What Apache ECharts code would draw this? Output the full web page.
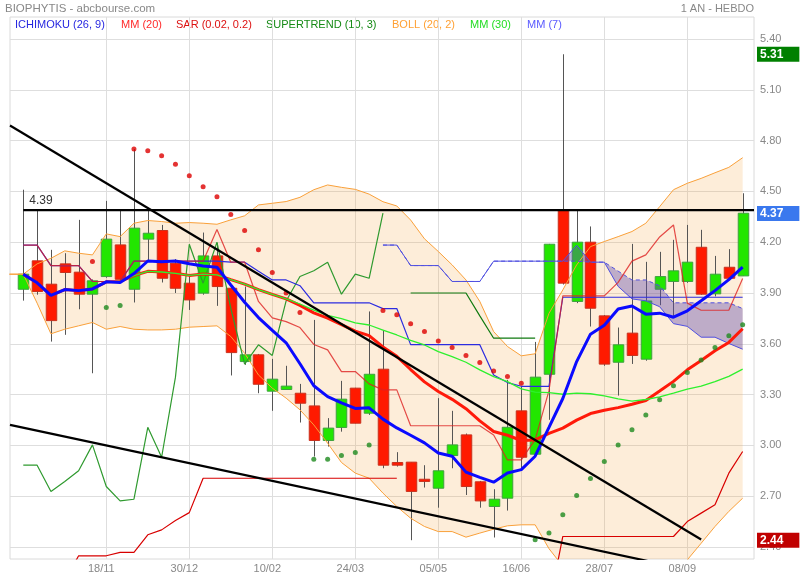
<!DOCTYPE html>
<html><head><meta charset="utf-8">
<script src="https://cdn.jsdelivr.net/npm/echarts/dist/echarts.min.js"></script>
<style>html,body{margin:0;padding:0;background:#fff}#c{width:800px;height:580px}</style>
</head><body><div id="c"></div>
<script>
// ---------- DATA ----------
const dates = ["07/10","14/10","21/10","28/10","04/11","11/11","18/11","25/11","02/12","09/12","16/12","23/12","30/12","06/01","13/01","20/01","27/01","03/02","10/02","17/02","24/02","03/03","10/03","17/03","24/03","31/03","07/04","14/04","21/04","28/04","05/05","12/05","19/05","26/05","02/06","09/06","16/06","23/06","30/06","07/07","14/07","21/07","28/07","04/08","11/08","18/08","25/08","01/09","08/09","15/09","22/09","29/09","06/10"];
const labelIdx = [6,12,18,24,30,36,42,48];
const yTicks = [2.4,2.7,3.0,3.3,3.6,3.9,4.2,4.5,4.8,5.1,5.4];

const opens  = [3.922,4.09,3.952,4.072,4.023,3.893,3.997,4.184,3.922,4.218,4.269,4.076,3.958,3.899,4.119,3.928,3.495,3.535,3.32,3.33,3.308,3.233,3.029,3.106,3.338,3.19,3.45,2.899,2.901,2.80,2.747,2.94,3.062,2.785,2.639,2.688,3.204,2.948,3.42,4.391,3.85,4.20,3.765,3.491,3.663,3.509,3.922,3.968,3.968,4.17,3.895,4.052,4.001];
const closes = [4.011,3.909,3.737,4.021,3.893,3.972,4.218,3.981,4.283,4.253,3.987,3.928,3.859,4.119,3.938,3.548,3.535,3.361,3.391,3.35,3.249,3.029,3.102,3.273,3.131,3.42,2.883,2.883,2.728,2.787,2.85,3.003,2.757,2.672,2.682,3.107,2.93,3.403,4.188,3.958,4.20,3.81,3.48,3.594,3.531,3.853,3.997,4.031,4.082,3.893,4.011,3.987,4.371];
const highs  = [4.51,4.391,4.155,4.135,4.332,3.98,4.444,4.391,4.75,4.391,4.302,4.10,3.997,4.257,4.194,3.93,3.938,3.54,3.511,3.47,3.363,3.741,3.161,3.381,3.34,3.791,3.682,2.96,2.90,2.883,3.279,3.204,3.07,2.79,2.741,3.387,3.348,3.611,4.19,5.31,4.385,4.293,3.77,3.696,4.19,4.084,4.143,4.214,4.302,4.273,4.119,4.159,4.489];
const lows   = [3.855,3.89,3.613,3.653,3.804,3.426,3.99,3.97,3.844,4.086,3.962,3.90,3.80,3.89,3.824,3.413,3.476,3.308,3.204,3.33,3.135,2.934,2.993,3.081,3.13,3.18,2.865,2.875,2.44,2.751,2.632,2.865,2.707,2.632,2.456,2.615,2.865,2.94,3.151,3.95,3.84,3.702,3.47,3.294,3.481,3.50,3.828,3.765,3.96,3.89,3.88,3.98,4.0];

// Bollinger (20,2) – first value is the week before the first candle
const bollStart = -1;
const bollUpper = [4.011,4.011,4.072,4.105,4.149,4.135,4.125,4.249,4.233,4.312,4.328,4.322,4.312,4.316,4.312,4.306,4.332,4.356,4.42,4.43,4.44,4.465,4.51,4.538,4.524,4.512,4.484,4.439,4.414,4.331,4.22,4.145,4.066,3.977,3.85,3.672,3.584,3.529,3.541,3.78,3.918,4.066,4.174,4.204,4.233,4.263,4.312,4.41,4.51,4.548,4.577,4.61,4.642,4.699];
const bollLower = [4.011,4.011,3.84,3.659,3.686,3.706,3.726,3.686,3.702,3.686,3.682,3.682,3.686,3.698,3.702,3.706,3.643,3.544,3.416,3.338,3.279,3.21,3.121,3.013,2.899,2.836,2.806,2.718,2.639,2.57,2.521,2.491,2.491,2.458,2.482,2.505,2.525,2.531,2.531,2.39,2.286,2.236,2.206,2.216,2.219,2.227,2.226,2.226,2.224,2.324,2.422,2.521,2.61,2.688];

const mm7  = [4.011,3.96,3.886,3.92,3.914,3.924,3.966,3.962,4.015,4.089,4.084,4.089,4.073,4.059,4.052,3.947,3.845,3.755,3.679,3.606,3.482,3.352,3.288,3.251,3.218,3.222,3.155,3.103,3.06,3.015,2.955,2.936,2.842,2.811,2.783,2.837,2.857,2.936,3.106,3.277,3.495,3.657,3.71,3.805,3.823,3.775,3.781,3.757,3.795,3.854,3.914,3.979,4.053];
const mm20 = [4.011,3.96,3.886,3.92,3.914,3.924,3.966,3.968,4.003,4.028,4.024,4.016,4.004,4.012,4.007,3.979,3.952,3.92,3.892,3.865,3.827,3.783,3.751,3.713,3.675,3.648,3.581,3.526,3.448,3.375,3.318,3.272,3.217,3.145,3.082,3.06,3.029,3.032,3.071,3.102,3.149,3.188,3.207,3.223,3.243,3.265,3.321,3.378,3.446,3.501,3.559,3.608,3.689];
const mm30 = [4.011,3.96,3.886,3.92,3.914,3.924,3.966,3.968,4.003,4.028,4.024,4.016,4.004,4.012,4.007,3.979,3.952,3.92,3.892,3.865,3.835,3.799,3.768,3.748,3.723,3.711,3.681,3.652,3.62,3.593,3.554,3.524,3.491,3.446,3.406,3.377,3.334,3.315,3.312,3.302,3.309,3.305,3.292,3.275,3.261,3.271,3.287,3.309,3.332,3.35,3.376,3.408,3.45];

// Ichimoku (26, 9)
const tenkan = [4.183,4.183,4.062,4.062,4.062,3.968,3.968,3.968,4.088,4.088,4.088,4.088,4.088,4.088,4.275,4.082,4.082,3.85,3.753,3.731,3.696,3.596,3.564,3.436,3.436,3.363,3.328,3.328,3.116,3.116,3.116,3.116,3.116,3.116,3.061,2.914,2.914,3.034,3.323,3.883,3.883,3.883,3.883,3.963,4.088,4.125,4.231,4.302,3.84,3.798,3.798,3.798,3.985];
const kijun  = [4.183,4.183,4.062,4.062,4.062,3.968,3.968,3.968,4.088,4.088,4.088,4.088,4.088,4.088,4.088,4.082,4.082,4.029,3.977,3.977,3.943,3.842,3.842,3.842,3.842,3.842,3.808,3.808,3.595,3.595,3.595,3.595,3.595,3.595,3.416,3.371,3.349,3.349,3.349,3.875,3.875,3.875,3.875,3.875,3.875,3.875,3.875,3.875,3.875,3.875,3.875,3.875,3.875];
const senkouStart = 26;
const senkouA = [4.183,4.183,4.062,4.062,4.062,3.968,3.968,3.968,4.088,4.088,4.088,4.088,4.088,4.088,4.182,4.082,4.082,3.939,3.865,3.854,3.819,3.719,3.703,3.639,3.639,3.602,3.568];
const senkouB = [4.183,4.183,4.062,4.062,4.062,3.968,3.968,3.968,4.088,4.088,4.088,4.088,4.088,4.088,4.088,4.082,4.082,4.029,3.977,3.977,3.943,3.842,3.842,3.842,3.842,3.842,3.808];
const chikouShift = 26;

// Supertrend (10, 3)
const stLower = [null,null,null,2.2,2.348,2.348,2.348,2.368,2.368,2.472,2.501,2.556,2.603,2.806,2.806,2.806,2.806,2.806,2.806,2.806,2.806,2.806,2.806,2.806,2.806,2.806,2.806,2.806,null,null,null,null,null,null,null,null,null,null,2.05,2.462,2.462,2.462,2.462,2.462,2.462,2.462,2.462,2.462,2.55,2.60,2.649,2.836,2.964];
const stUpper = [null,null,null,null,null,null,null,null,null,null,null,null,null,null,null,null,null,null,null,null,null,null,null,null,null,null,null,null,3.90,3.90,3.90,3.90,3.90,3.765,3.633,3.633,3.633,3.633,null,null,null,null,null,null,null,null,null,null,null,null,null,null,null];

// SAR (0.02, 0.2)
const sarAbove = [null,null,null,null,null,4.086,null,null,4.75,4.74,4.711,4.66,4.593,4.528,4.469,4.363,4.269,4.155,4.021,3.90,3.785,null,null,null,null,null,3.796,3.771,3.718,3.672,3.617,3.578,3.531,3.489,3.44,3.407,3.367,null,null,null,null,null,null,null,null,null,null,null,null,null,null,null,null];
const sarBelow = [null,null,null,null,null,null,3.814,3.826,null,null,null,null,null,null,null,null,null,null,null,null,null,2.918,2.918,2.94,2.958,3.003,null,null,null,null,null,null,null,null,null,null,null,2.442,2.482,2.59,2.704,2.804,2.905,3.003,3.092,3.18,3.269,3.352,3.43,3.505,3.578,3.647,3.712];

// drawn lines
const resistance = 4.39;
const trendA = [[-0.96,4.889],[49,2.444]];
const trendB = [[-0.96,3.121],[52.82,2.183]];

// ---------- LAYOUT ----------
const XMIN = -0.96, XMAX = 52.82, YMIN = 2.329, YMAX = 5.530;
const FONT = '"Liberation Sans", Arial, sans-serif';

const pairs = (arr, start) => arr.map((v, i) => [i + start, v == null ? '-' : v]);
const pts = (arr) => arr.map((v, i) => v == null ? null : [i, v]).filter(Boolean);

const maxHigh = Math.max(...highs), minLow = Math.min(...lows), lastClose = closes[closes.length - 1];

function lineS(name, data, color, width, z, extra) {
  return Object.assign({ name, type: 'line', data, symbol: 'none', z, animation: false,
    lineStyle: { color, width }, connectNulls: false, silent: true }, extra || {});
}

// filled band between two value arrays (drawn through the axes' scales)
function bandS(name, upper, lower, start, fill, z) {
  const mid = Math.floor(upper.length / 2);
  return { name, type: 'custom', z, clip: true, silent: true, animation: false,
    data: [[mid + start, (upper[mid] + lower[mid]) / 2]], encode: { x: 0, y: 1 },
    renderItem: function (params, api) {
      const top = upper.map((v, i) => api.coord([i + start, v]));
      const bot = lower.map((v, i) => api.coord([i + start, v])).reverse();
      const cs = params.coordSys;
      return { type: 'polygon', shape: { points: top.concat(bot) }, style: { fill: fill },
        clipPath: { type: 'rect', shape: { x: cs.x, y: cs.y, width: cs.width, height: cs.height } } };
    } };
}

const tag = (v, bg) => ({ yAxis: v, lineStyle: { color: 'rgba(0,0,0,0)', width: 1, opacity: 1 },
  label: { show: true, position: 'end', distance: 3, opacity: 1, formatter: (p) => Number(p.value).toFixed(2),
    backgroundColor: bg, color: '#fff', fontWeight: 'bold', fontSize: 12, fontFamily: FONT,
    padding: [2, 16, 1, 3], lineHeight: 12 } });

const chart = echarts.init(document.getElementById('c'), null, { renderer: 'canvas' });
chart.setOption({
  animation: false,
  backgroundColor: '#fff',
  grid: { left: 10, right: 46, top: 17, bottom: 21, show: true, borderColor: '#dadada', borderWidth: 1 },
  xAxis: { type: 'value', min: XMIN, max: XMAX,
    axisLine: { show: false }, axisTick: { show: false, customValues: labelIdx },
    axisLabel: { customValues: labelIdx, formatter: (v) => dates[v], color: '#888', fontSize: 11, fontFamily: FONT, margin: 4, padding: [0, 10, 0, 0] },
    splitLine: { show: true, lineStyle: { color: '#dedede', width: 1 } } },
  yAxis: { type: 'value', position: 'right', min: YMIN, max: YMAX,
    axisLine: { show: false }, axisTick: { show: false, customValues: yTicks },
    axisLabel: { customValues: yTicks, formatter: (v) => v.toFixed(2), color: '#888', fontSize: 11, fontFamily: FONT, margin: 6 },
    splitLine: { show: true, lineStyle: { color: '#dedede', width: 1 } } },
  graphic: [
    { type: 'text', left: 5, top: 3, style: { text: 'BIOPHYTIS - abcbourse.com', fill: '#888', font: '11.5px ' + FONT } },
    { type: 'text', right: 46, top: 3, style: { text: '1 AN - HEBDO', fill: '#888', font: '11px ' + FONT } },
    { type: 'text', left: 15, top: 19, style: { text: 'ICHIMOKU (26, 9)', fill: '#2626e0', font: '11px ' + FONT } },
    { type: 'text', left: 121, top: 19, style: { text: 'MM (20)', fill: '#ff2a2a', font: '11px ' + FONT } },
    { type: 'text', left: 176, top: 19, style: { text: 'SAR (0.02, 0.2)', fill: '#dd1111', font: '11px ' + FONT } },
    { type: 'text', left: 266, top: 19, style: { text: 'SUPERTREND (10, 3)', fill: '#158a15', font: '11px ' + FONT } },
    { type: 'text', left: 392, top: 19, style: { text: 'BOLL (20, 2)', fill: '#ffa033', font: '11px ' + FONT } },
    { type: 'text', left: 470, top: 19, style: { text: 'MM (30)', fill: '#22dd22', font: '11px ' + FONT } },
    { type: 'text', left: 527, top: 19, style: { text: 'MM (7)', fill: '#5a5aff', font: '11px ' + FONT } }
  ],
  series: [
    // Bollinger fill
    bandS('bollFill', bollUpper, bollLower, bollStart, 'rgba(247,164,64,0.2)', 1),
    // candles
    { name: 'candles', type: 'custom', z: 2, clip: true, animation: false, silent: true,
      data: opens.map((o, i) => [i, o, closes[i], lows[i], highs[i]]),
      encode: { x: 0, y: [1, 2, 3, 4] },
      renderItem: function (params, api) {
        const k = api.value(0), o = api.value(1), c = api.value(2), l = api.value(3), h = api.value(4);
        const pO = api.coord([k, o]), pC = api.coord([k, c]), pL = api.coord([k, l]), pH = api.coord([k, h]);
        const w = api.size([1, 0])[0] * 0.76;
        const up = c >= o;
        const x = Math.round(pO[0]) + 0.5;
        const top = Math.min(pO[1], pC[1]), hgt = Math.max(1.5, Math.abs(pO[1] - pC[1]));
        return { type: 'group', children: [
          { type: 'line', shape: { x1: x, y1: pH[1], x2: x, y2: pL[1] }, style: { stroke: '#555', lineWidth: 1 } },
          { type: 'rect', shape: { x: x - w / 2, y: top, width: w, height: hgt },
            style: { fill: up ? '#22e600' : '#ff1a00', stroke: up ? '#3fa03f' : '#c8321e', lineWidth: 1 } }
        ] };
      } },
    // Ichimoku cloud
    bandS('cloudFill', senkouA, senkouB, senkouStart, 'rgba(95,75,175,0.4)', 3),
    // Bollinger lines
    lineS('bollUp', pairs(bollUpper, bollStart), '#f9a03a', 1, 4),
    lineS('bollLow', pairs(bollLower, bollStart), '#f9a03a', 1, 4),
    // Supertrend
    lineS('stLower', pairs(stLower, 0), '#d80000', 1.2, 4),
    lineS('stUpper', pairs(stUpper, 0), '#107a10', 1.2, 4),
    // Chikou
    lineS('chikou', pairs(closes.slice(chikouShift), 0), '#2f9a2f', 1.2, 4),
    // Senkou spans
    lineS('senkouA', pairs(senkouA, senkouStart), '#5050e0', 1, 4),
    lineS('senkouB', pairs(senkouB, senkouStart), '#5050e0', 1, 4, { lineStyle: { color: '#5050e0', width: 1, type: [4, 3] } }),
    // Kijun / Tenkan
    lineS('kijun', pairs(kijun, 0), '#2c2ce0', 1.2, 4),
    lineS('tenkan', pairs(tenkan, 0), '#dd2020', 1.2, 4, { lineStyle: { color: '#dd2020', width: 1.2, opacity: 0.8 } }),
    // moving averages
    lineS('mm20', pairs(mm20, 0), '#ff1a0a', 3, 4),
    lineS('mm30', pairs(mm30, 0), '#2ef02e', 1.3, 4),
    lineS('mm7', pairs(mm7, 0), '#0a0aff', 3, 4),
    // SAR
    { name: 'sarAbove', type: 'scatter', data: pts(sarAbove), symbolSize: 5, z: 5, silent: true, animation: false, itemStyle: { color: '#dd0000' } },
    { name: 'sarBelow', type: 'scatter', data: pts(sarBelow), symbolSize: 5, z: 5, silent: true, animation: false, itemStyle: { color: '#1e8a1e' } },
    // trend lines
    lineS('trendA', trendA, '#000', 2.2, 6),
    lineS('trendB', trendB, '#000', 2.2, 6),
    // resistance line
    lineS('resist', [[0, resistance], [XMAX, resistance]], '#000', 2.2, 6, {
      markPoint: { silent: true, animation: false, symbol: 'circle', symbolSize: 0,
        data: [{ coord: [0, resistance], label: { show: true, position: 'right', offset: [1, -9], formatter: resistance.toFixed(2), color: '#333', fontSize: 12, fontFamily: FONT } }] } }),
    // price tags (period high, last close, period low)
    lineS('tags', [[closes.length - 1, lastClose]], 'rgba(0,0,0,0)', 1, 7, { clip: false,
      markLine: { silent: true, symbol: 'none', animation: false,
        data: [ tag(maxHigh, '#008000'), tag(lastClose, '#3a78ee'), tag(minLow, '#c00000') ] } })
  ]
});
</script></body></html>
